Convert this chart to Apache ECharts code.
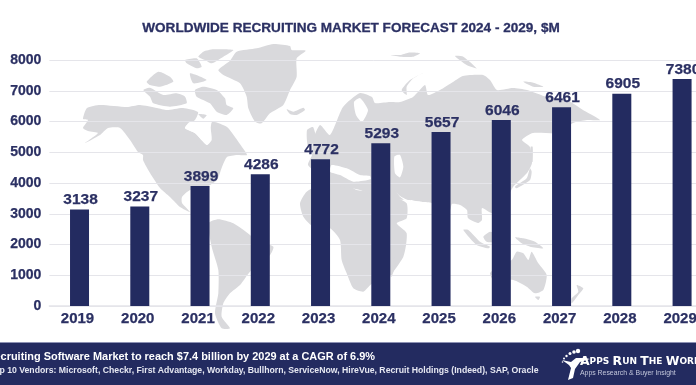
<!DOCTYPE html>
<html><head><meta charset="utf-8">
<style>html,body{margin:0;padding:0;background:#fff;overflow:hidden}#c{width:696px;height:385px}</style>
<script src="https://cdn.jsdelivr.net/npm/echarts@6/dist/echarts.min.js"></script>
</head><body><div id="c"></div>
<script>
const years = ['2019','2020','2021','2022','2023','2024','2025','2026','2027','2028','2029'];
const revenue = [3138,3237,3899,4286,4772,5293,5657,6046,6461,6905,7380];
const yTicks = {min:0,max:8000,interval:1000};
const titleText = 'WORLDWIDE RECRUITING MARKET FORECAST 2024 - 2029, $M';
const footerLine1 = 'Recruiting Software Market to reach $7.4 billion by 2029 at a CAGR of 6.9%';
const footerLine2 = 'Top 10 Vendors: Microsoft, Checkr, First Advantage, Workday, Bullhorn, ServiceNow, HireVue, Recruit Holdings (Indeed), SAP, Oracle';

const NAVY='#232b60', INK='#2b3063', MAP='#d9d9dc', GRID='#e5e5ea';
const FONT='"Liberation Sans", Arial, sans-serif';
// decorative backdrop outlines, traced in zoomed-crop coordinates
const z=(ox,oy,a)=>{const p=[];for(let i=0;i<a.length;i+=2)p.push([ox+a[i]/3,oy+a[i+1]/3]);return p;};
const A=[70,40],B=[140,160],C=[300,40],D=[380,180];
const land=[
 // Greenland, Iceland
 z(...A,[445,90,480,62,500,35,560,25,610,12,660,18,665,30,707,32,680,55,680,110,660,150,640,195,600,220,575,250,555,245,535,205,530,170,510,130,460,105]),
 z(...A,[650,208,670,215,700,203,705,210,680,225,660,222]),
 // North America
 [[87,108],[100,105],[127,107],[140,105],[157,108],[167,110],[183,108],[198,112],[195,120],[187,125],[185,128],[195,133],[207,145],[210,140],[212,122],[227,127],[235,137],[242,147],[247,155],[237,155],[227,157],[222,167],[217,180],[205,188],[195,192],[190,190],[182,197],[182,203],[190,212],[180,207],[170,197],[160,188],[150,173],[143,160],[143,155],[138,152],[130,140],[120,128],[108,128],[100,135],[85,143],[98,133],[88,131],[83,128],[88,120],[83,119]],
 z(...A,[400,35,430,28,490,30,460,50,425,70,405,60,385,50]),
 z(...A,[345,60,380,55,395,80,380,85,350,70]),
 z(...A,[220,150,240,143,280,165,320,160,345,170,350,190,300,200,250,190,240,170]),
 z(...A,[375,150,400,140,440,150,465,175,470,195,490,205,470,225,440,215,420,190,380,170]),
 z(...A,[230,125,265,95,300,110,310,125,270,140,240,135]),
 z(...A,[360,100,410,120,370,130]),
 z(...A,[385,222,410,225,400,236]),
 // South America
 z(...B,[205,190,235,178,280,190,330,225,345,240,400,260,390,285,330,335,300,375,270,400,250,430,245,470,270,505,245,505,225,460,235,400,235,330,215,260]),
 // Africa
 z(...B,[480,130,500,95,570,60,610,65,650,90,690,95,760,110,800,130,800,175,770,190,800,220,790,290,730,370,695,372,670,395,640,385,620,340,605,300,600,240,570,205,520,200,490,170]),
 // Madagascar
 z(...D,[45,230,50,240,35,290,28,285,35,250]),
 // Eurasia
 [[313,140],[320,125],[330,135],[343,107],[360,93],[372,97],[375,103],[390,102],[400,102],[413,97],[425,85],[428,95],[440,90],[453,82],[463,76],[483,75],[490,80],[497,90],[513,88],[527,90],[547,97],[567,100],[583,110],[600,120],[587,120],[573,123],[560,133],[533,133],[522,140],[530,147],[532,163],[527,173],[513,187],[505,203],[492,213],[482,208],[482,220],[478,223],[468,218],[467,210],[460,205],[452,204],[450,210],[440,208],[432,203],[422,202],[410,200],[398,200],[392,205],[400,210],[380,222],[380,200],[360,190],[340,186],[320,175],[308,165],[312,155]],
 // Islands: UK, Svalbard, Novaya Zemlya, Arctic, Japan, Sakhalin
 [[307,130],[313,127],[316,140],[308,146]],
 z(...C,[305,150,330,120,370,98,340,115,320,140,320,165]),
 z(...C,[465,48,490,50,530,85,500,75]),
 z(...C,[270,45,300,45,325,38,360,40,340,50,300,50]),
 z(...C,[670,125,700,128,730,140,700,140]),
 z(...C,[645,440,680,415,690,385,695,395,690,420,650,445]),
 z(...C,[692,320,698,320,698,365,693,365]),
 // Sumatra, Borneo, New Guinea, Australia, Tasmania, NZ
 z(...D,[250,150,265,150,300,185,330,200,325,205,290,195]),
 z(...D,[310,170,330,155,345,160,345,185,320,185]),
 z(...D,[405,172,430,175,465,185,490,205,450,200,425,190]),
 z(...D,[330,280,340,270,395,240,410,215,430,220,445,240,455,215,475,250,500,285,490,330,465,340,440,320,400,300,340,300]),
 z(...D,[465,350,480,350,475,360]),
 z(...D,[590,315,610,325,595,345,575,370,575,355,595,335]),
];
const water=[
 z(...C,[283,350,300,345,310,380,300,412,285,400]),  // Caspian
 z(...B,[575,15,620,25,660,45,690,48,692,58,640,65,600,45,570,35]), // Med
 z(...D,[45,30,60,48,88,62,125,65,155,72,155,80,92,72,62,52]), // Gulf
 z(...A,[345,265,360,245,400,245,420,262,425,300,410,315,375,280]), // Hudson Bay
 [[354,102],[360,98],[368,110],[362,122],[356,115]], // Baltic/Bothnia
];
const figure=[[585,358],[590,359],[580,362],[575,369],[573,378],[568,380],[571,368],[569,365],[562,360],[571,362],[576,358]];
const dots=[[578,351,2.2],[574,352,1.8],[570,353.5,1.5],[566.5,356,1.2],[564,358.5,1],[562.5,362,.8]];
const poly=(pts,fill,zz,sm)=>({type:'polygon',silent:true,z:zz,shape:{points:pts,smooth:sm||0},style:{fill}});

const graphic=[
 ...land.map(p=>poly(p,MAP,-3,0.2)),
 ...water.map(p=>poly(p,'#ffffff',-2,0.2)),
 {type:'rect',z:10,silent:true,shape:{x:0,y:342,width:696,height:43},style:{fill:NAVY}},
 {type:'rect',z:10,silent:true,shape:{x:0,y:342,width:696,height:1},style:{fill:'#8d92b4'}},
 {type:'text',z:11,x:375,y:357,silent:true,style:{text:footerLine1,fill:'#fff',font:'bold 10.95px '+FONT,textAlign:'right',textVerticalAlign:'middle'}},
 {type:'text',z:11,x:538.5,y:371,silent:true,style:{text:footerLine2,fill:'#e6e8f2',font:'bold 8.7px '+FONT,textAlign:'right',textVerticalAlign:'middle'}},
 poly(figure,'#fff',11),
 ...dots.map(d=>({type:'circle',z:11,silent:true,shape:{cx:d[0],cy:d[1],r:d[2]},style:{fill:'#fff'}})),
 {type:'text',z:11,x:580,y:362,silent:true,style:{rich:{b:{font:'bold 12.4px "DejaVu Sans"',fill:'#fff'},s:{font:'bold 9px "DejaVu Sans"',fill:'#fff'}},text:'{b|A}{s|PPS} {b|R}{s|UN} {b|T}{s|HE} {b|W}{s|ORLD}',textVerticalAlign:'middle'}},
 {type:'text',z:11,x:580,y:373,silent:true,style:{text:'Apps Research & Buyer Insight',fill:'#c4c8dc',font:'6.9px '+FONT,textVerticalAlign:'middle'}},
];
const chart=echarts.init(document.getElementById('c'),null,{renderer:'canvas'});
chart.setOption({
 animation:false,
 backgroundColor:'#fff',
 title:{text:titleText,left:346,top:16,textAlign:'center',textStyle:{color:INK,fontFamily:FONT,fontWeight:'bold',fontSize:13.57,textBorderColor:INK,textBorderWidth:0.3}},
 grid:{left:49.4,width:662.8,top:60,height:246,outerBoundsMode:'none'},
 xAxis:{type:'category',data:years,axisTick:{show:false},
  axisLine:{lineStyle:{color:GRID,width:1.5}},
  axisLabel:{color:INK,fontFamily:FONT,fontWeight:'bold',fontSize:15,margin:5,padding:[0,4,0,0],interval:0,hideOverlap:false,textBorderColor:INK,textBorderWidth:0.25}},
 yAxis:{type:'value',...yTicks,axisLine:{show:false},axisTick:{show:false},
  splitLine:{lineStyle:{color:GRID,width:1}},
  axisLabel:{color:INK,fontFamily:FONT,fontWeight:'bold',fontSize:14,margin:8,formatter:v=>String(v),textBorderColor:INK,textBorderWidth:0.25}},
 series:[{type:'bar',data:revenue,barWidth:19,itemStyle:{color:NAVY},
  label:{show:true,position:'top',distance:1.5,offset:[1,0],color:INK,fontFamily:FONT,fontWeight:'bold',fontSize:15.5,textBorderColor:INK,textBorderWidth:0.25}}],
 graphic:{elements:graphic}
});
</script></body></html>
